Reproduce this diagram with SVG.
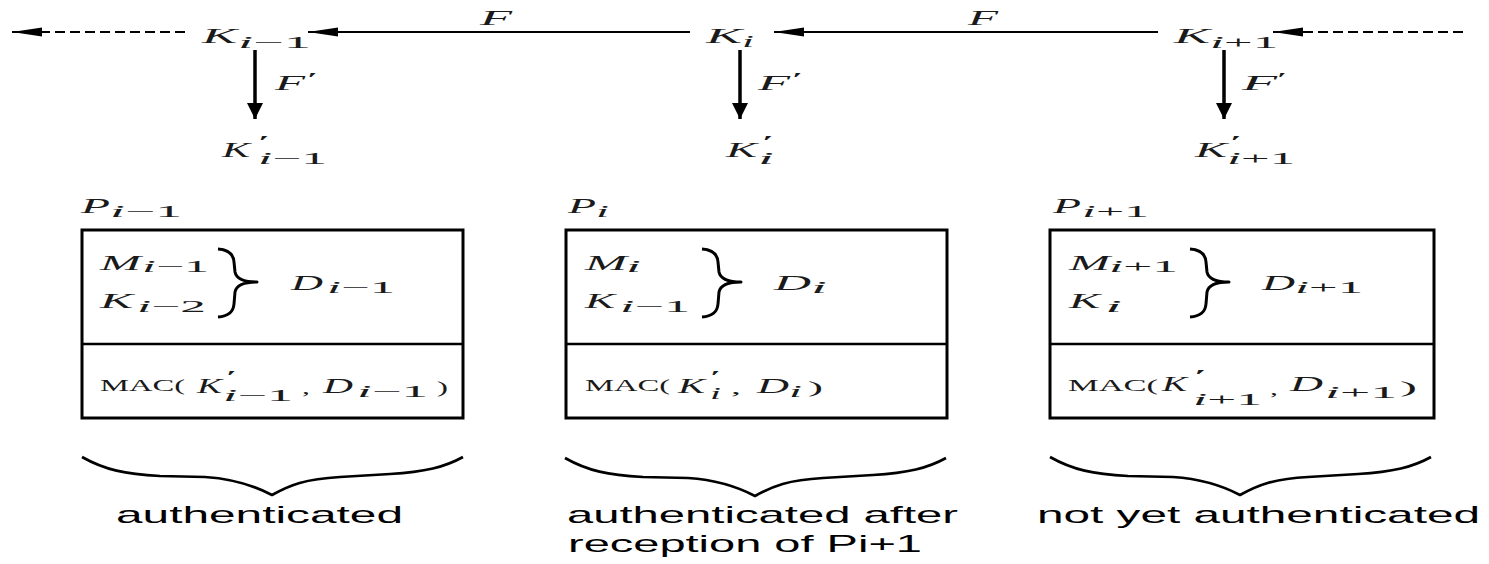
<svg xmlns="http://www.w3.org/2000/svg" width="1489" height="564" viewBox="0 0 1489 564">
  <style>
    .m { font-family: "Liberation Serif", "Times New Roman", serif; font-style: italic; font-size: 20px; fill: #1a1a1a; }
    .s { font-family: "Liberation Serif", "Times New Roman", serif; font-size: 17px; fill: #1a1a1a; }
    .s .it { font-style: italic; }
    .pr { font-family: "Liberation Serif", "Times New Roman", serif; font-size: 17px; fill: #1a1a1a; }
    .r { font-family: "Liberation Serif", "Times New Roman", serif; font-size: 16px; fill: #1a1a1a; }
    .t { font-family: "Liberation Sans", Arial, sans-serif; font-size: 24px; fill: #000; }
    .link { stroke: #000; stroke-width: 2; fill: none; }
    .dash { stroke-dasharray: 10 5; }
    .down { stroke: #000; stroke-width: 3.5; fill: none; }
    .box { fill: #fff; stroke: #000; stroke-width: 3; }
    .sep { stroke: #000; stroke-width: 2.5; }
    .brace { fill: none; stroke: #000; stroke-width: 3; stroke-linejoin: round; }
    .ubrace { fill: none; stroke: #000; stroke-width: 2.6; stroke-linejoin: round; }
  </style>
  <defs>
    <marker id="ah" viewBox="0 0 30 10" refX="30" refY="5" markerWidth="30" markerHeight="10" markerUnits="userSpaceOnUse" orient="auto">
      <path d="M0,0.5 L30,5 L0,9.5 z" fill="#000"/>
    </marker>
    <marker id="av" viewBox="0 0 16 16" refX="16" refY="8" markerWidth="16" markerHeight="16" markerUnits="userSpaceOnUse" orient="auto">
      <path d="M0,0 L16,8 L0,16 z" fill="#000"/>
    </marker>
    <!-- right curly brace joining M and K into D -->
    <path id="rbrace" class="brace" d="M218,249 Q233,250 234,262 L235,272 Q237,282 257,282 Q237,282 235,292 L234,304 Q233,316 218,317"/>
    <!-- under-brace below each packet -->
    <path id="ubrace" class="ubrace" d="M82,457 C105,470 125,474 160,476 L205,477 C235,479 255,486 272,495 C290,485 305,479 340,477 L390,474 C425,472 445,467 463,457"/>
  </defs>

  <!-- connectors: one-way chain F and key derivation F' -->
  <g id="connectors">
    <path class="link dash" d="M185,32 L12,32" marker-end="url(#ah)"/>
    <path class="link" d="M690,32 L308,32" marker-end="url(#ah)"/>
    <path class="link" d="M1158,32 L774,32" marker-end="url(#ah)"/>
    <path class="link dash" d="M1463,32 L1273,32" marker-end="url(#ah)"/>
    <path class="down" d="M255,50 L255,119" marker-end="url(#av)"/>
    <path class="down" d="M740,50 L740,119" marker-end="url(#av)"/>
    <path class="down" d="M1224,50 L1224,119" marker-end="url(#av)"/>
    <text class="m" x="480" y="25" textLength="32" lengthAdjust="spacingAndGlyphs">F</text>
    <text class="m" x="968" y="25" textLength="30" lengthAdjust="spacingAndGlyphs">F</text>
    <text class="m" x="275" y="90" textLength="30" lengthAdjust="spacingAndGlyphs">F</text>
    <text class="pr" x="307" y="84" textLength="11" lengthAdjust="spacingAndGlyphs">′</text>
    <text class="m" x="758" y="90" textLength="32" lengthAdjust="spacingAndGlyphs">F</text>
    <text class="pr" x="792" y="84" textLength="11" lengthAdjust="spacingAndGlyphs">′</text>
    <text class="m" x="1242" y="90" textLength="35" lengthAdjust="spacingAndGlyphs">F</text>
    <text class="pr" x="1277" y="84" textLength="10" lengthAdjust="spacingAndGlyphs">′</text>
  </g>

  <!-- chain keys -->
  <g id="key-i-minus-1">
    <text class="m" x="202" y="43" textLength="35" lengthAdjust="spacingAndGlyphs">K</text>
    <text class="s" x="238" y="48" textLength="73" lengthAdjust="spacingAndGlyphs"><tspan class="it">i</tspan>−1</text>
  </g>
  <g id="key-i">
    <text class="m" x="706" y="43" textLength="36" lengthAdjust="spacingAndGlyphs">K</text>
    <text class="s" x="742" y="47" textLength="12" lengthAdjust="spacingAndGlyphs"><tspan class="it">i</tspan></text>
  </g>
  <g id="key-i-plus-1">
    <text class="m" x="1174" y="43" textLength="36" lengthAdjust="spacingAndGlyphs">K</text>
    <text class="s" x="1210" y="48" textLength="68" lengthAdjust="spacingAndGlyphs"><tspan class="it">i</tspan>+1</text>
  </g>

  <!-- derived MAC keys -->
  <g id="mackey-i-minus-1">
    <text class="m" x="222" y="157" textLength="28" lengthAdjust="spacingAndGlyphs">K</text>
    <text class="pr" x="258" y="147" textLength="12" lengthAdjust="spacingAndGlyphs">′</text>
    <text class="s" x="258" y="164" textLength="69" lengthAdjust="spacingAndGlyphs"><tspan class="it">i</tspan>−1</text>
  </g>
  <g id="mackey-i">
    <text class="m" x="726" y="157" textLength="31" lengthAdjust="spacingAndGlyphs">K</text>
    <text class="pr" x="762" y="147" textLength="12" lengthAdjust="spacingAndGlyphs">′</text>
    <text class="s" x="758" y="164" textLength="16" lengthAdjust="spacingAndGlyphs"><tspan class="it">i</tspan></text>
  </g>
  <g id="mackey-i-plus-1">
    <text class="m" x="1195" y="157" textLength="32" lengthAdjust="spacingAndGlyphs">K</text>
    <text class="pr" x="1230" y="147" textLength="12" lengthAdjust="spacingAndGlyphs">′</text>
    <text class="s" x="1227" y="164" textLength="68" lengthAdjust="spacingAndGlyphs"><tspan class="it">i</tspan>+1</text>
  </g>

  <!-- packet P(i-1) -->
  <g id="packet-i-minus-1">
    <text class="m" x="81" y="213" textLength="29" lengthAdjust="spacingAndGlyphs">P</text>
    <text class="s" x="110" y="217" textLength="72" lengthAdjust="spacingAndGlyphs"><tspan class="it">i</tspan>−1</text>
    <rect class="box" x="82" y="230" width="381" height="188"/>
    <line class="sep" x1="82" y1="344" x2="463" y2="344"/>
    <text class="m" x="100" y="270" textLength="41" lengthAdjust="spacingAndGlyphs">M</text>
    <text class="s" x="142" y="272" textLength="67" lengthAdjust="spacingAndGlyphs"><tspan class="it">i</tspan>−1</text>
    <text class="m" x="100" y="308" textLength="33" lengthAdjust="spacingAndGlyphs">K</text>
    <text class="s" x="137" y="312" textLength="69" lengthAdjust="spacingAndGlyphs"><tspan class="it">i</tspan>−2</text>
    <use href="#rbrace"/>
    <text class="m" x="291" y="290" textLength="32" lengthAdjust="spacingAndGlyphs">D</text>
    <text class="s" x="327" y="293" textLength="68" lengthAdjust="spacingAndGlyphs"><tspan class="it">i</tspan>−1</text>
    <text class="r" x="100" y="391" textLength="85" lengthAdjust="spacingAndGlyphs">MAC(</text>
    <text class="m" x="197" y="393" textLength="25" lengthAdjust="spacingAndGlyphs">K</text>
    <text class="pr" x="226" y="382" textLength="11" lengthAdjust="spacingAndGlyphs">′</text>
    <text class="s" x="223" y="401" textLength="70" lengthAdjust="spacingAndGlyphs"><tspan class="it">i</tspan>−1</text>
    <text class="r" x="302" y="394" textLength="8" lengthAdjust="spacingAndGlyphs">,</text>
    <text class="m" x="323" y="393" textLength="30" lengthAdjust="spacingAndGlyphs">D</text>
    <text class="s" x="357" y="397" textLength="71" lengthAdjust="spacingAndGlyphs"><tspan class="it">i</tspan>−1</text>
    <text class="r" x="437" y="393" textLength="11" lengthAdjust="spacingAndGlyphs">)</text>
  </g>

  <!-- packet P(i) -->
  <g id="packet-i">
    <text class="m" x="568" y="213" textLength="28" lengthAdjust="spacingAndGlyphs">P</text>
    <text class="s" x="596" y="217" textLength="13" lengthAdjust="spacingAndGlyphs"><tspan class="it">i</tspan></text>
    <rect class="box" x="566" y="230" width="381" height="188"/>
    <line class="sep" x1="566" y1="344" x2="947" y2="344"/>
    <text class="m" x="585" y="270" textLength="42" lengthAdjust="spacingAndGlyphs">M</text>
    <text class="s" x="626" y="272" textLength="15" lengthAdjust="spacingAndGlyphs"><tspan class="it">i</tspan></text>
    <text class="m" x="585" y="308" textLength="30" lengthAdjust="spacingAndGlyphs">K</text>
    <text class="s" x="620" y="312" textLength="70" lengthAdjust="spacingAndGlyphs"><tspan class="it">i</tspan>−1</text>
    <use href="#rbrace" transform="translate(484,0)"/>
    <text class="m" x="774" y="290" textLength="37" lengthAdjust="spacingAndGlyphs">D</text>
    <text class="s" x="811" y="293" textLength="16" lengthAdjust="spacingAndGlyphs"><tspan class="it">i</tspan></text>
    <text class="r" x="585" y="391" textLength="85" lengthAdjust="spacingAndGlyphs">MAC(</text>
    <text class="m" x="678" y="393" textLength="27" lengthAdjust="spacingAndGlyphs">K</text>
    <text class="pr" x="710" y="382" textLength="11" lengthAdjust="spacingAndGlyphs">′</text>
    <text class="s" x="710" y="399" textLength="11" lengthAdjust="spacingAndGlyphs"><tspan class="it">i</tspan></text>
    <text class="r" x="731" y="394" textLength="10" lengthAdjust="spacingAndGlyphs">,</text>
    <text class="m" x="757" y="393" textLength="32" lengthAdjust="spacingAndGlyphs">D</text>
    <text class="s" x="789" y="397" textLength="13" lengthAdjust="spacingAndGlyphs"><tspan class="it">i</tspan></text>
    <text class="r" x="808" y="393" textLength="15" lengthAdjust="spacingAndGlyphs">)</text>
  </g>

  <!-- packet P(i+1) -->
  <g id="packet-i-plus-1">
    <text class="m" x="1053" y="213" textLength="28" lengthAdjust="spacingAndGlyphs">P</text>
    <text class="s" x="1082" y="217" textLength="67" lengthAdjust="spacingAndGlyphs"><tspan class="it">i</tspan>+1</text>
    <rect class="box" x="1050" y="230" width="384" height="188"/>
    <line class="sep" x1="1050" y1="344" x2="1434" y2="344"/>
    <text class="m" x="1069" y="270" textLength="41" lengthAdjust="spacingAndGlyphs">M</text>
    <text class="s" x="1109" y="272" textLength="69" lengthAdjust="spacingAndGlyphs"><tspan class="it">i</tspan>+1</text>
    <text class="m" x="1069" y="308" textLength="31" lengthAdjust="spacingAndGlyphs">K</text>
    <text class="s" x="1105" y="312" textLength="17" lengthAdjust="spacingAndGlyphs"><tspan class="it">i</tspan></text>
    <use href="#rbrace" transform="translate(972,0)"/>
    <text class="m" x="1262" y="290" textLength="33" lengthAdjust="spacingAndGlyphs">D</text>
    <text class="s" x="1295" y="293" textLength="68" lengthAdjust="spacingAndGlyphs"><tspan class="it">i</tspan>+1</text>
    <text class="r" x="1068" y="391" textLength="90" lengthAdjust="spacingAndGlyphs">MAC(</text>
    <text class="m" x="1162" y="391" textLength="25" lengthAdjust="spacingAndGlyphs">K</text>
    <text class="pr" x="1194" y="381" textLength="13" lengthAdjust="spacingAndGlyphs">′</text>
    <text class="s" x="1193" y="405" textLength="69" lengthAdjust="spacingAndGlyphs"><tspan class="it">i</tspan>+1</text>
    <text class="r" x="1270" y="395" textLength="8" lengthAdjust="spacingAndGlyphs">,</text>
    <text class="m" x="1290" y="391" textLength="33" lengthAdjust="spacingAndGlyphs">D</text>
    <text class="s" x="1325" y="398" textLength="72" lengthAdjust="spacingAndGlyphs"><tspan class="it">i</tspan>+1</text>
    <text class="r" x="1400" y="393" textLength="17" lengthAdjust="spacingAndGlyphs">)</text>
  </g>

  <!-- authentication status under each packet -->
  <g id="status-i-minus-1">
    <use href="#ubrace"/>
    <text class="t" x="116" y="523" textLength="287" lengthAdjust="spacingAndGlyphs">authenticated</text>
  </g>
  <g id="status-i">
    <use href="#ubrace" transform="translate(483,1)"/>
    <text class="t" x="567" y="523" textLength="391" lengthAdjust="spacingAndGlyphs">authenticated after</text>
    <text class="t" x="568" y="552" textLength="354" lengthAdjust="spacingAndGlyphs">reception of Pi+1</text>
  </g>
  <g id="status-i-plus-1">
    <use href="#ubrace" transform="translate(968,0)"/>
    <text class="t" x="1037" y="523" textLength="443" lengthAdjust="spacingAndGlyphs">not yet authenticated</text>
  </g>
</svg>
